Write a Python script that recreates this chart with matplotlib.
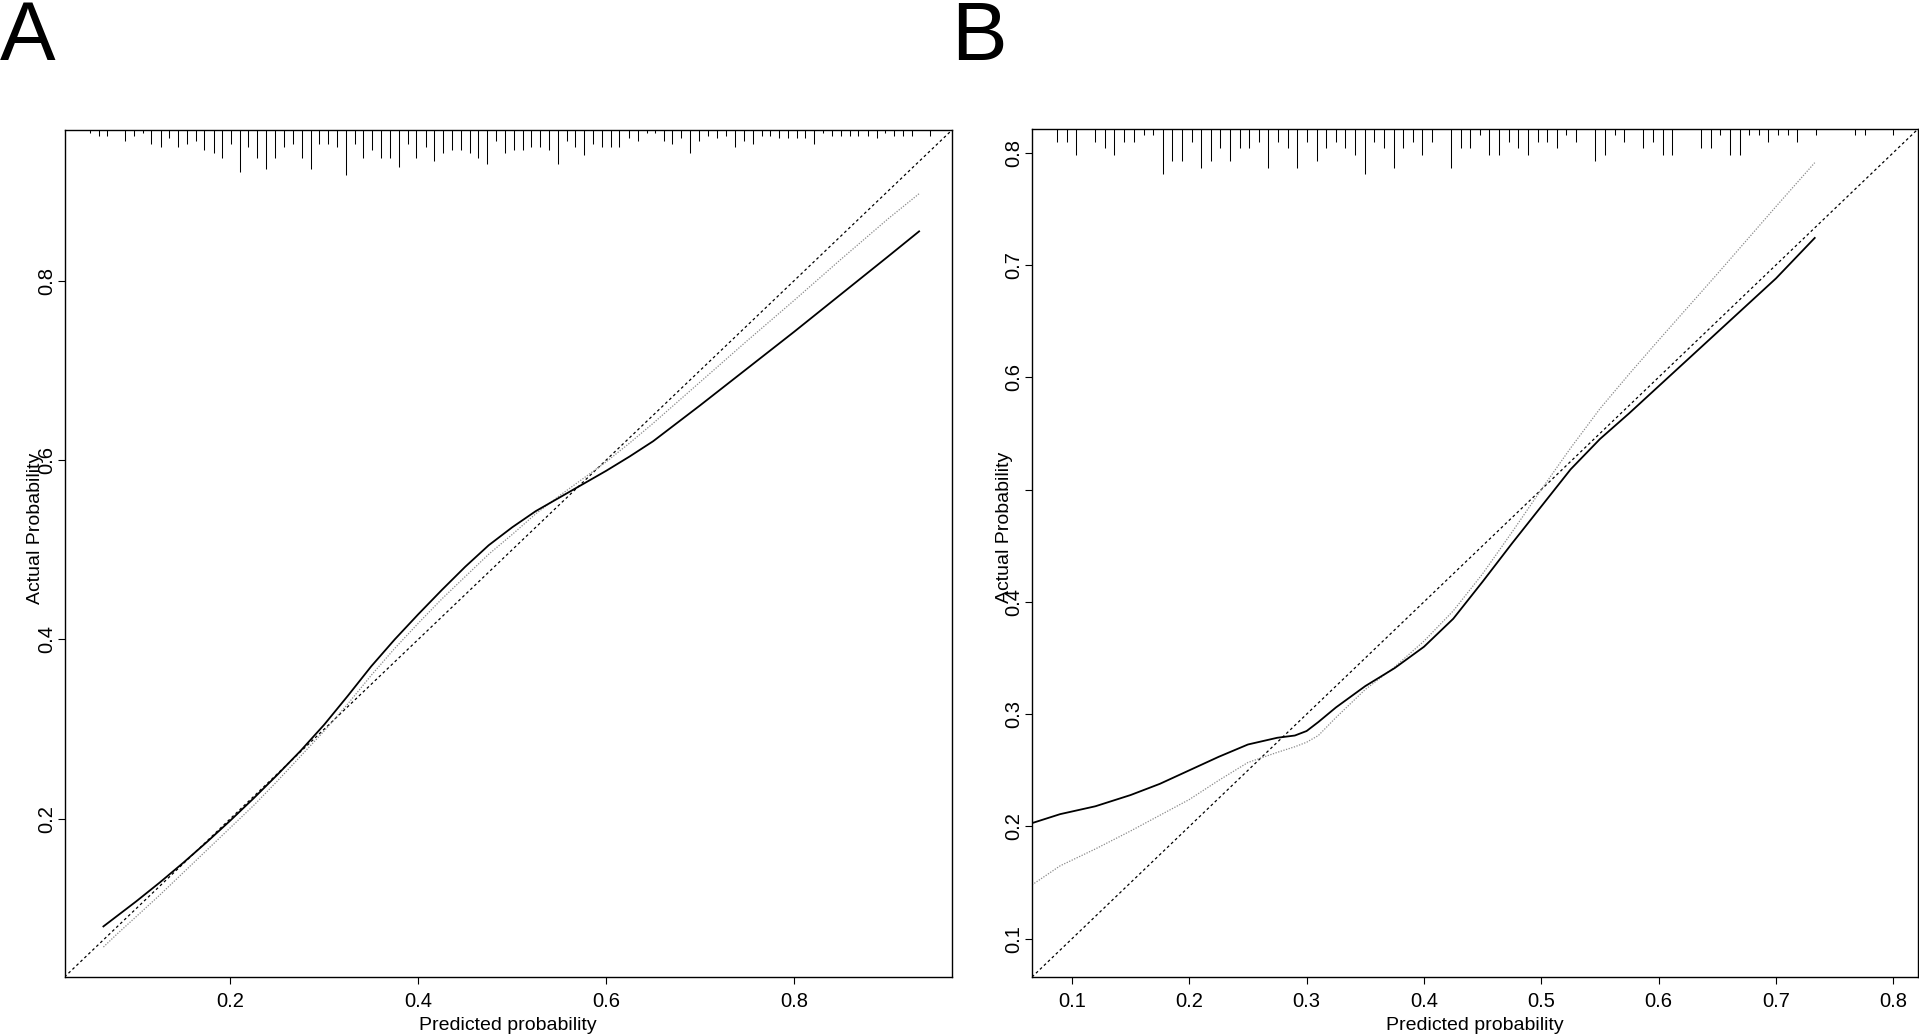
import matplotlib.pyplot as plt
import numpy as np

plt.rcParams["font.family"] = ["Liberation Sans", "DejaVu Sans"]

# ---- panel A data ----
a_rug_x = [0.0505, 0.0598, 0.0692, 0.0880, 0.0974, 0.1068, 0.1161, 0.1259, 0.1349, 0.1443,
           0.1537, 0.1631, 0.1724, 0.1822, 0.1912, 0.2006, 0.2100, 0.2193, 0.2287, 0.2381,
           0.2479, 0.2573, 0.2667, 0.2761, 0.2855, 0.2948, 0.3042, 0.3136, 0.3230, 0.3324,
           0.3417, 0.3511, 0.3605, 0.3699, 0.3793, 0.3887, 0.3980, 0.4078, 0.4172, 0.4266,
           0.4360, 0.4454, 0.4547, 0.4641, 0.4735, 0.4829, 0.4923, 0.5016, 0.5110, 0.5204,
           0.5298, 0.5392, 0.5486, 0.5579, 0.5673, 0.5767, 0.5861, 0.5955, 0.6049, 0.6140,
           0.6243, 0.6336, 0.6432, 0.6524, 0.6613, 0.6705, 0.6801, 0.6897, 0.6993, 0.7086,
           0.7178, 0.7274, 0.7370, 0.7466, 0.7558, 0.7654, 0.7747, 0.7839, 0.7935, 0.8031,
           0.8120, 0.8212, 0.8308, 0.8404, 0.8497, 0.8592, 0.8685, 0.8781, 0.8877, 0.8969,
           0.9065, 0.9157, 0.9253, 0.9442]
a_rug_n = [1, 2, 2, 4, 2, 1, 5, 6, 3, 6,
           5, 4, 7, 8, 10, 5, 15, 6, 10, 14,
           10, 6, 5, 10, 14, 5, 5, 6, 16, 5,
           10, 7, 10, 10, 13, 5, 10, 6, 11, 8,
           7, 7, 8, 10, 12, 4, 8, 7, 7, 6,
           6, 7, 12, 4, 6, 9, 5, 6, 6, 6,
           3, 4, 1, 1, 4, 5, 3, 8, 4, 2,
           3, 2, 6, 4, 5, 2, 2, 3, 3, 3,
           3, 5, 1, 2, 2, 2, 2, 2, 3, 1,
           2, 2, 2, 2]

a_pred = [0.065, 0.08, 0.10, 0.125, 0.15, 0.175, 0.20, 0.225, 0.25, 0.275,
          0.30, 0.325, 0.35, 0.375, 0.40, 0.425, 0.45, 0.475, 0.50, 0.525,
          0.55, 0.575, 0.60, 0.625, 0.65, 0.70, 0.75, 0.80, 0.85, 0.90, 0.933]
a_bias = [0.080, 0.092, 0.108, 0.129, 0.151, 0.174, 0.198, 0.223, 0.249, 0.276,
          0.305, 0.337, 0.370, 0.400, 0.428, 0.455, 0.481, 0.505, 0.525, 0.543,
          0.558, 0.573, 0.588, 0.604, 0.621, 0.661, 0.702, 0.743, 0.785, 0.827, 0.855]
a_app = [0.057, 0.072, 0.091, 0.115, 0.140, 0.165, 0.190, 0.215, 0.242, 0.270,
         0.298, 0.328, 0.360, 0.390, 0.418, 0.445, 0.470, 0.495, 0.517, 0.540,
         0.560, 0.579, 0.598, 0.619, 0.641, 0.687, 0.733, 0.778, 0.824, 0.869, 0.897]

# ---- panel B data ----
b_rug_x = [0.0872, 0.0954, 0.1037, 0.1199, 0.1282, 0.1362, 0.1447, 0.1527, 0.1613, 0.1692,
           0.1775, 0.1855, 0.1937, 0.2020, 0.2100, 0.2182, 0.2265, 0.2348, 0.2430, 0.2513,
           0.2593, 0.2675, 0.2758, 0.2838, 0.2920, 0.3003, 0.3085, 0.3168, 0.3248, 0.3330,
           0.3413, 0.3496, 0.3578, 0.3658, 0.3741, 0.3823, 0.3906, 0.3986, 0.4068, 0.4234,
           0.4313, 0.4396, 0.4476, 0.4558, 0.4641, 0.4724, 0.4804, 0.4889, 0.4969, 0.5051,
           0.5134, 0.5214, 0.5296, 0.5459, 0.5541, 0.5624, 0.5707, 0.5869, 0.5952, 0.6034,
           0.6114, 0.6362, 0.6445, 0.6525, 0.6604, 0.6690, 0.6769, 0.6852, 0.6935, 0.7017,
           0.7100, 0.7179, 0.7345, 0.7672, 0.7755, 0.8000]
b_rug_n = [2, 2, 4, 2, 3, 4, 2, 2, 1, 1,
           7, 5, 5, 2, 6, 5, 3, 5, 3, 3,
           2, 6, 2, 3, 6, 2, 5, 3, 2, 3,
           4, 7, 2, 3, 6, 3, 2, 4, 2, 6,
           3, 3, 1, 4, 4, 2, 3, 4, 2, 2,
           3, 1, 2, 5, 4, 1, 2, 3, 2, 4,
           4, 3, 3, 1, 4, 4, 1, 1, 2, 1,
           1, 2, 1, 1, 1, 1]

b_pred = [0.066, 0.09, 0.12, 0.15, 0.175, 0.20, 0.225, 0.25, 0.275, 0.29,
          0.30, 0.31, 0.325, 0.35, 0.375, 0.40, 0.425, 0.45, 0.475, 0.50,
          0.525, 0.55, 0.575, 0.60, 0.65, 0.70, 0.733]
b_bias = [0.203, 0.211, 0.218, 0.228, 0.238, 0.250, 0.262, 0.273, 0.279, 0.281,
          0.285, 0.293, 0.306, 0.325, 0.341, 0.360, 0.385, 0.418, 0.452, 0.485,
          0.518, 0.545, 0.568, 0.592, 0.640, 0.688, 0.724]
b_app = [0.148, 0.165, 0.180, 0.196, 0.210, 0.224, 0.241, 0.257, 0.266, 0.271,
         0.275, 0.281, 0.297, 0.322, 0.342, 0.365, 0.392, 0.425, 0.462, 0.500,
         0.537, 0.572, 0.603, 0.633, 0.692, 0.752, 0.791]

W, H = 1919, 1036
fig = plt.figure(figsize=(W / 100, H / 100), dpi=100)


def panel(rect, lim, ticks, yticklabels, pred, bias, app, rug_x, rug_n,
          ylab_x, letter, letter_x):
    ax = fig.add_axes([rect[0] / W, 1 - rect[3] / H, (rect[1] - rect[0]) / W,
                       (rect[3] - rect[2]) / H])
    ax.set_xlim(lim)
    ax.set_ylim(lim)
    ax.plot(lim, lim, color="black", lw=0.9, ls=(0, (2.2, 2.2)))
    ax.plot(pred, app, color="#8a8a8a", lw=0.9, ls=(0, (1, 1.2)))
    ax.plot(pred, bias, color="black", lw=1.3)
    # rug of predicted probabilities along the top
    n = np.asarray(rug_n, dtype=float)
    hpx = rect[3] - rect[2]
    ax.vlines(rug_x, 1 - n / n.max() * 45 / hpx, 1, color="black", lw=0.75,
              transform=ax.get_xaxis_transform())
    ax.set_xticks(ticks)
    ax.set_xticklabels([f"{t:g}" for t in ticks])
    ax.set_yticks(ticks)
    ax.set_yticklabels(yticklabels, rotation=90, va="center")
    ax.tick_params(direction="out", length=5, width=0.8, labelsize=14.5)
    ax.tick_params(axis="x", pad=6)
    ax.tick_params(axis="y", pad=1)
    for s in ax.spines.values():
        s.set_linewidth(1.0)
    ax.set_xlabel("Predicted probability", fontsize=14, labelpad=4)
    ax.set_ylabel("Actual Probability", fontsize=14)
    ax.yaxis.set_label_coords((ylab_x - rect[0]) / (rect[1] - rect[0]), 0.53)
    fig.text(letter_x / W, 1 - 60 / H, letter, fontsize=60, ha="left", va="baseline")
    return ax


panel((64.5, 952, 130, 977), (0.0236, 0.968), [0.2, 0.4, 0.6, 0.8],
      ["0.2", "0.4", "0.6", "0.8"], a_pred, a_bias, a_app, a_rug_x, a_rug_n,
      44, "A", 0)

panel((1032, 1918, 129, 977), (0.066, 0.821), [0.1, 0.2, 0.3, 0.4, 0.5, 0.6, 0.7, 0.8],
      ["0.1", "0.2", "0.3", "0.4", "", "0.6", "0.7", "0.8"], b_pred, b_bias, b_app,
      b_rug_x, b_rug_n, 1013, "B", 951)

fig.savefig("out.png", dpi=100)
